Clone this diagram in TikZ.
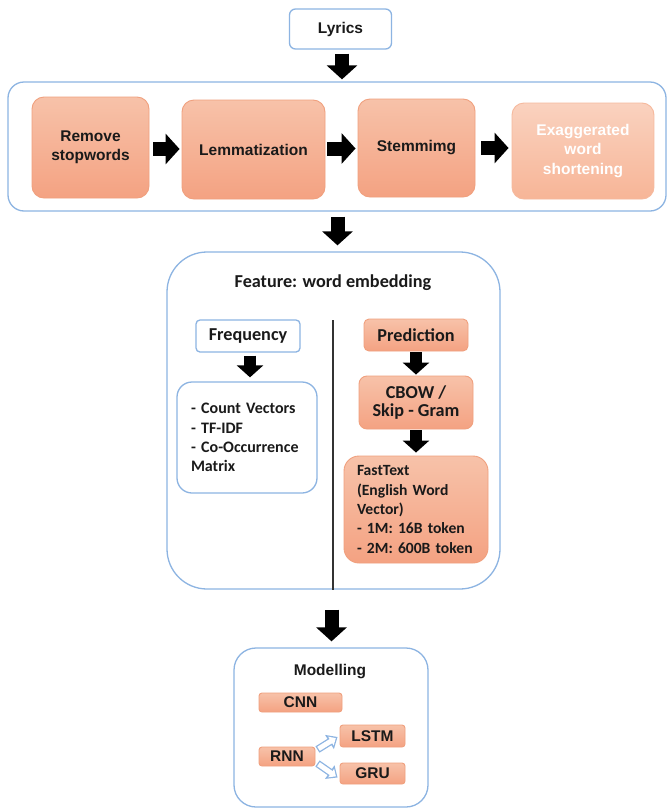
\documentclass[tikz,border=0pt]{standalone}
\usepackage{fontspec}
\setmainfont{Liberation Sans}
\newfontfamily\calfont{Carlito}
\usetikzlibrary{arrows.meta,calc}
\hyphenpenalty=10000
\exhyphenpenalty=10000

\definecolor{bluebd}{HTML}{8DB4E2}
\definecolor{ortop}{HTML}{F7C2A9}
\definecolor{orbot}{HTML}{F4A282}
\definecolor{orbd}{HTML}{F0A07E}
\definecolor{fadetop}{HTML}{FAD2BF}
\definecolor{fadebot}{HTML}{F7B597}
\definecolor{fadebd}{HTML}{F6B99D}
\definecolor{ink}{HTML}{1A1A1A}
\definecolor{divcol}{HTML}{333333}

\tikzset{
  headfont/.style={font=\fontsize{15.5}{19.5}\selectfont\bfseries},
  calhead/.style={font=\calfont\fontsize{18.2}{19}\selectfont\bfseries},
  callist/.style={font=\calfont\fontsize{16}{19.3}\selectfont\bfseries},
  frame/.style={draw=bluebd, line width=1.3pt, fill=white, inner sep=0pt},
  whitebox/.style={draw=bluebd, line width=1.3pt, fill=white, inner sep=0pt, text=ink},
  orbox/.style={draw=orbd, line width=0.9pt, top color=ortop, bottom color=orbot,
    inner sep=0pt, text=ink, align=center},
  fadebox/.style={draw=fadebd, line width=0.9pt, top color=fadetop, bottom color=fadebot,
    inner sep=0pt, text=white, align=center},
  bigarrow/.style={draw=black, line width=14pt, -{Triangle[length=14pt,width=30pt]}},
  smallarrow/.style={draw=black, line width=12.5pt, -{Triangle[length=12pt,width=26pt]}},
  harrowout/.style={draw=bluebd, line width=7.5pt, -{Triangle[length=9.5pt,width=16pt]}},
  harrowin/.style={draw=white, line width=4.9pt, -{Triangle[length=5.8pt,width=10pt]},
    shorten <=1.3pt, shorten >=2pt},
  divider/.style={draw=divcol, line width=1.3pt}
}
\newcommand{\hollowarr}[2]{%
  \draw[harrowout] #1 -- #2;
  \draw[harrowin] #1 -- #2;}

\begin{document}
\begin{tikzpicture}[x=1pt,y=-1pt]
\useasboundingbox[fill=white] (0,0) rectangle (668,809);

% ---- input ----
\node[whitebox, rounded corners=6pt, minimum width=102pt, minimum height=40pt, headfont]
  (lyrics) at (340.5,29) {Lyrics};

% ---- preprocessing row ----
\node[frame, rounded corners=16pt, minimum width=658pt, minimum height=129pt]
  (frame1) at (337,146.5) {};
\node[orbox, rounded corners=12pt, minimum width=117pt, minimum height=101pt, headfont]
  (rs) at (90.5,147.5) {Remove\\stopwords};
\node[orbox, rounded corners=12pt, minimum width=143pt, minimum height=99pt, headfont]
  (lem) at (253.5,149.5) {Lemmatization};
\node[orbox, rounded corners=12pt, minimum width=117pt, minimum height=98pt, headfont]
  (stem) at (416.5,148) {Stemmimg};
\node[fadebox, rounded corners=12pt, minimum width=142pt, minimum height=96pt, headfont]
  (exag) at (583,151) {Exaggerated\\word\\shortening};

\draw[bigarrow] ($(lyrics.south)+(1.5,4)$) -- ($(lyrics.south |- frame1.north)+(1.5,-2)$);
\draw[bigarrow] ($(rs.east)+(4,1.5)$) -- ($(lem.west |- rs.east)+(-2,1.5)$);
\draw[bigarrow] ($(lem.east)+(2,-1)$) -- ($(stem.west |- lem.east)+(-2,-1)$);
\draw[bigarrow] ($(stem.east)+(6,0)$) -- ($(exag.west |- stem.east)+(-3,0)$);

% ---- feature extraction ----
\node[frame, rounded corners=40pt, minimum width=333pt, minimum height=337pt]
  (frame2) at (333.5,420.5) {};
\draw[bigarrow] ($(frame1.south)+(0.5,5)$) -- ($(frame1.south |- frame2.north)+(0.5,-6)$);

\node[calhead, text=ink] (feat) at (333,283) {Feature: word embedding};
\coordinate (divtop) at (333,320);
\draw[divider] (divtop) -- (divtop |- frame2.south);

\node[whitebox, rounded corners=4pt, minimum width=104pt, minimum height=32pt, calhead]
  (freq) at (248,336) {Frequency};
\node[whitebox, rounded corners=15pt, minimum width=140pt, minimum height=111pt,
  text width=112pt, inner xsep=14pt, align=left, callist]
  (list) at (247,437.5) {- Count Vectors\\- TF-IDF\\- Co-Occurrence\\Matrix};
\draw[smallarrow] ($(freq.south)+(2,3)$) -- ($(freq.south |- list.north)+(2,-4)$);

\node[orbox, rounded corners=5pt, minimum width=104pt, minimum height=32pt, calhead]
  (pred) at (416,335) {Prediction};
\node[orbox, rounded corners=8pt, minimum width=114pt, minimum height=53pt,
  font=\calfont\fontsize{18.2}{18}\selectfont\bfseries]
  (cbow) at (416,402.5) {CBOW /\\Skip - Gram};
\node[orbox, rounded corners=15pt, minimum width=144pt, minimum height=107pt,
  text width=118pt, inner xsep=13pt, align=left,
  font=\calfont\fontsize{15.6}{19.3}\selectfont\bfseries]
  (fast) at (416,509.5) {FastText\\(English Word\\Vector)\\- 1M: 16B token\\- 2M: 600B token};
\draw[smallarrow] ($(pred.south)+(0,1)$) -- ($(cbow.north)+(0,-1)$);
\draw[smallarrow] ($(cbow.south)+(0,1)$) -- ($(fast.north)+(0,-3)$);

% ---- modelling ----
\node[frame, rounded corners=22pt, minimum width=194pt, minimum height=159pt]
  (frame3) at (331,727.5) {};
\draw[bigarrow] ($(frame2.south)+(-2,20)$) -- ($(frame2.south |- frame3.north)+(-2,-6)$);

\node[headfont, text=ink] (model) at (330,672) {Modelling};
\node[orbox, rounded corners=3pt, minimum width=83pt, minimum height=19pt, headfont]
  (cnn) at (300.5,702.5) {CNN};
\node[orbox, rounded corners=3pt, minimum width=65pt, minimum height=22pt, headfont]
  (lstm) at (372.5,736) {LSTM};
\node[orbox, rounded corners=3pt, minimum width=56pt, minimum height=19pt, headfont]
  (rnn) at (287,756.5) {RNN};
\node[orbox, rounded corners=3pt, minimum width=65pt, minimum height=21pt, headfont]
  (gru) at (372.5,773.5) {GRU};

\hollowarr{($(rnn.east)+(2,-7)$)}{($(lstm.west)+(-2,1)$)}
\hollowarr{($(rnn.east)+(2,7)$)}{($(gru.west)+(-2,4)$)}
\end{tikzpicture}
\end{document}
